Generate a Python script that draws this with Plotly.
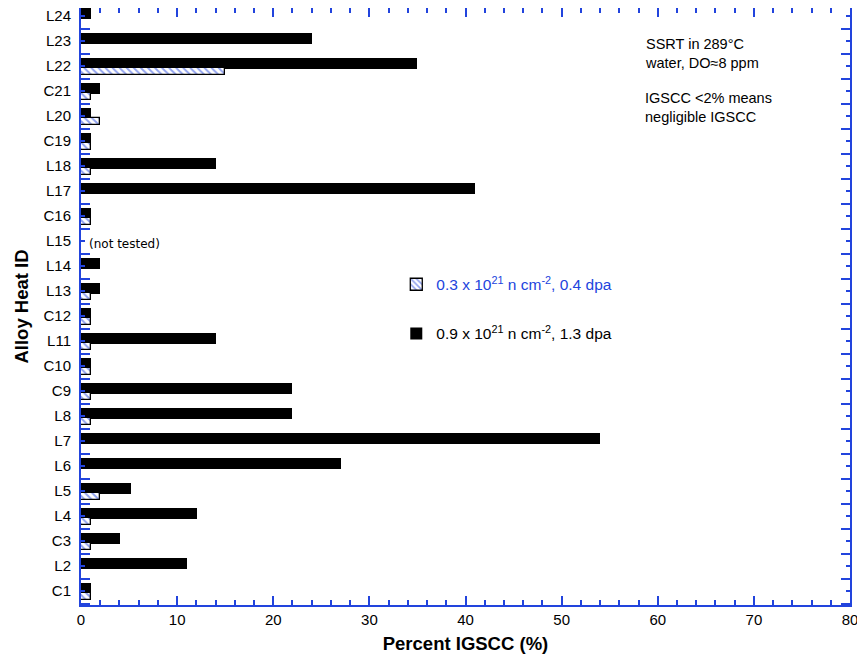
import plotly.graph_objects as go

categories = ["C1", "L2", "C3", "L4", "L5", "L6", "L7", "L8", "C9", "C10", "L11", "C12",
              "L13", "L14", "L15", "C16", "L17", "L18", "C19", "L20", "C21", "L22", "L23", "L24"]
high_dose = [1, 11, 4.1, 12.1, 5.2, 27, 54, 22, 22, 1, 14, 1,
             2, 2, None, 1, 41, 14, 1, 1, 2, 35, 24, 1]
low_dose = [1, None, 1, 1, 2, None, None, 1, 1, 1, 1, 1,
            1, None, None, 1, None, 1, 1, 2, 1, 15, None, None]
x_ticks = [0, 10, 20, 30, 40, 50, 60, 70, 80]

BLUE = "#2244dd"
positions = list(range(len(categories)))

fig = go.Figure()
fig.add_trace(go.Bar(
    x=high_dose, y=positions, orientation="h",
    width=0.42, offset=-0.1,
    marker=dict(color="black", line=dict(width=0)),
    name="0.9 x 10<sup>21</sup> n cm<sup>-2</sup>, 1.3 dpa",
    legendgroup="b", legendrank=2,
))
fig.add_trace(go.Bar(
    x=low_dose, y=positions, orientation="h",
    width=0.25, offset=-0.34,
    marker=dict(color="white", line=dict(color="black", width=1.3),
                pattern=dict(shape="\\", fgcolor=BLUE, bgcolor="white", size=5, solidity=0.4)),
    name="<span style='color:%s'>0.3 x 10<sup>21</sup> n cm<sup>-2</sup>, 0.4 dpa</span>" % BLUE,
    legendgroup="a", legendrank=1,
))

fig.add_annotation(x=0.6, y=categories.index("L15"), xref="x", yref="y", text="(not tested)",
                   showarrow=False, xanchor="left", yanchor="middle", yshift=-3,
                   font=dict(family="DejaVu Sans", size=12, color="black"))
fig.add_annotation(x=0.731, y=0.957, xref="paper", yref="paper", xanchor="left", yanchor="top",
                   align="left", showarrow=False,
                   text="SSRT in 289°C<br>water, DO≈8 ppm",
                   font=dict(family="Liberation Sans", size=14.5, color="black"))
fig.add_annotation(x=0.731, y=0.866, xref="paper", yref="paper", xanchor="left", yanchor="top",
                   align="left", showarrow=False,
                   text="IGSCC <2% means<br>negligible IGSCC",
                   font=dict(family="Liberation Sans", size=14.5, color="black"))

fig.update_layout(
    width=857, height=646,
    margin=dict(l=73, r=15, t=0, b=49),
    plot_bgcolor="white", paper_bgcolor="white",
    barmode="overlay",
    bargap=0,
    font=dict(family="Liberation Sans", size=15, color="black"),
    showlegend=True,
    legend=dict(x=0.41, y=0.565, xanchor="left", yanchor="top",
                bgcolor="rgba(0,0,0,0)", tracegroupgap=26,
                font=dict(family="Liberation Sans", size=15.5, color="black")),
    xaxis=dict(
        range=[0, 80], tickvals=x_ticks, ticks="inside", ticklen=9, tickwidth=2, tickcolor=BLUE,
        showline=True, linecolor=BLUE, linewidth=2, mirror="ticks", showgrid=False, zeroline=False,
        minor=dict(dtick=2, tick0=0, ticks="inside", ticklen=5, tickwidth=2, tickcolor=BLUE, showgrid=False),
        title=dict(text="<b>Percent IGSCC (%)</b>", font=dict(size=18.5), standoff=10),
        tickfont=dict(size=15), automargin=False, ticklabeloverflow="allow",
    ),
    yaxis=dict(
        range=[-0.56, 23.32], tickvals=positions, ticktext=categories,
        ticks="inside", ticklen=4, tickwidth=2, tickcolor=BLUE,
        showline=True, linecolor=BLUE, linewidth=2, mirror="ticks", showgrid=False, zeroline=False,
        minor=dict(dtick=1, tick0=0.5, ticks="inside", ticklen=9, tickwidth=2, tickcolor=BLUE, showgrid=False),
        title=dict(text="<b>Alloy Heat ID</b>", font=dict(size=18.5), standoff=10),
        tickfont=dict(size=15), ticklabelstandoff=5, automargin=False, ticklabeloverflow="allow",
    ),
)

fig.write_html("out.html")
